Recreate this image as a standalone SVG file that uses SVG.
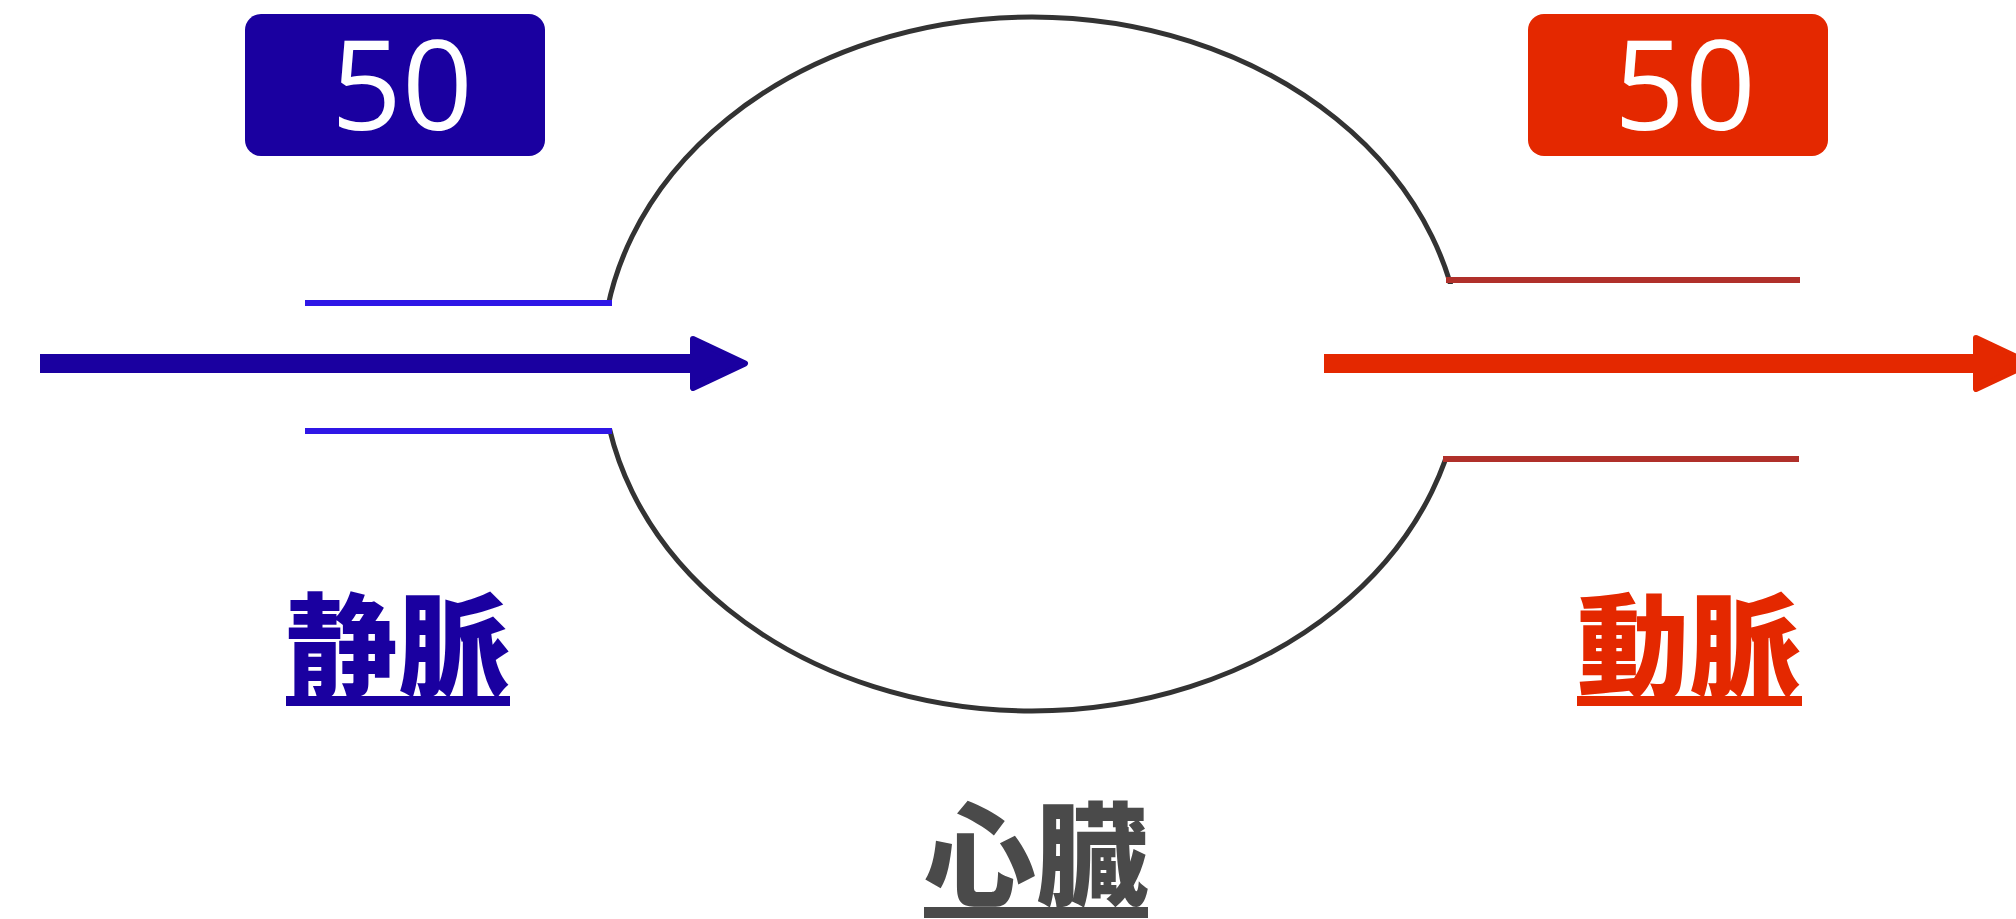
<svg xmlns="http://www.w3.org/2000/svg" width="2016" height="919" viewBox="0 0 2016 919">
  <style>
    .num { font-family: "Open Sans", "Liberation Sans", sans-serif; font-size: 124px; font-weight: 500; fill: #ffffff; text-anchor: middle; }
    .lbl { font-family: "Noto Sans CJK JP", "Noto Sans CJK TC", sans-serif; font-weight: 900; font-size: 112px; text-anchor: middle; }
    .heart { fill: none; stroke: #333333; stroke-width: 5; }
    .vein { stroke: #2f17e6; stroke-width: 6; }
    .artery { stroke: #b0302a; stroke-width: 6; }
  </style>
  <rect width="2016" height="919" fill="#ffffff"/>

  <g id="heart">
    <ellipse class="heart" cx="1032" cy="364" rx="430" ry="347"/>
    <rect x="576" y="306" width="63" height="122" fill="#ffffff"/>
    <rect x="1405" y="284" width="65" height="172" fill="#ffffff"/>
    <text class="lbl" x="1036" y="897" fill="#4a4a4a">心臓</text>
    <rect x="924" y="907" width="224" height="11" fill="#4a4a4a"/>
  </g>

  <g id="vein">
    <line class="vein" x1="305" y1="303" x2="612" y2="303"/>
    <line class="vein" x1="305" y1="431" x2="612" y2="431"/>
    <text class="lbl" x="398" y="688" fill="#1a00a0">静脈</text>
    <rect x="286" y="696" width="224" height="10" fill="#1a00a0"/>
  </g>

  <g id="artery">
    <line class="artery" x1="1446" y1="280" x2="1800" y2="280"/>
    <line class="artery" x1="1443" y1="459" x2="1799" y2="459"/>
    <text class="lbl" x="1689" y="688" fill="#e42800">動脈</text>
    <rect x="1577" y="696" width="225" height="10" fill="#e42800"/>
  </g>

  <g id="vein-count">
    <rect x="245" y="14" width="300" height="142" rx="16" fill="#1a00a0"/>
    <text class="num" x="402" y="130">50</text>
  </g>

  <g id="artery-count">
    <rect x="1528" y="14" width="300" height="142" rx="16" fill="#e42800"/>
    <text class="num" x="1685" y="130">50</text>
  </g>

  <g id="connectors">
    <rect x="40" y="354" width="655" height="19" fill="#1a00a0"/>
    <polygon points="693,339 745,363.5 693,388" fill="#1a00a0" stroke="#1a00a0" stroke-width="6" stroke-linejoin="round"/>
    <rect x="1324" y="354" width="654" height="19" fill="#e42800"/>
    <polygon points="1976,338 2030,363.5 1976,389" fill="#e42800" stroke="#e42800" stroke-width="6" stroke-linejoin="round"/>
  </g>
</svg>
